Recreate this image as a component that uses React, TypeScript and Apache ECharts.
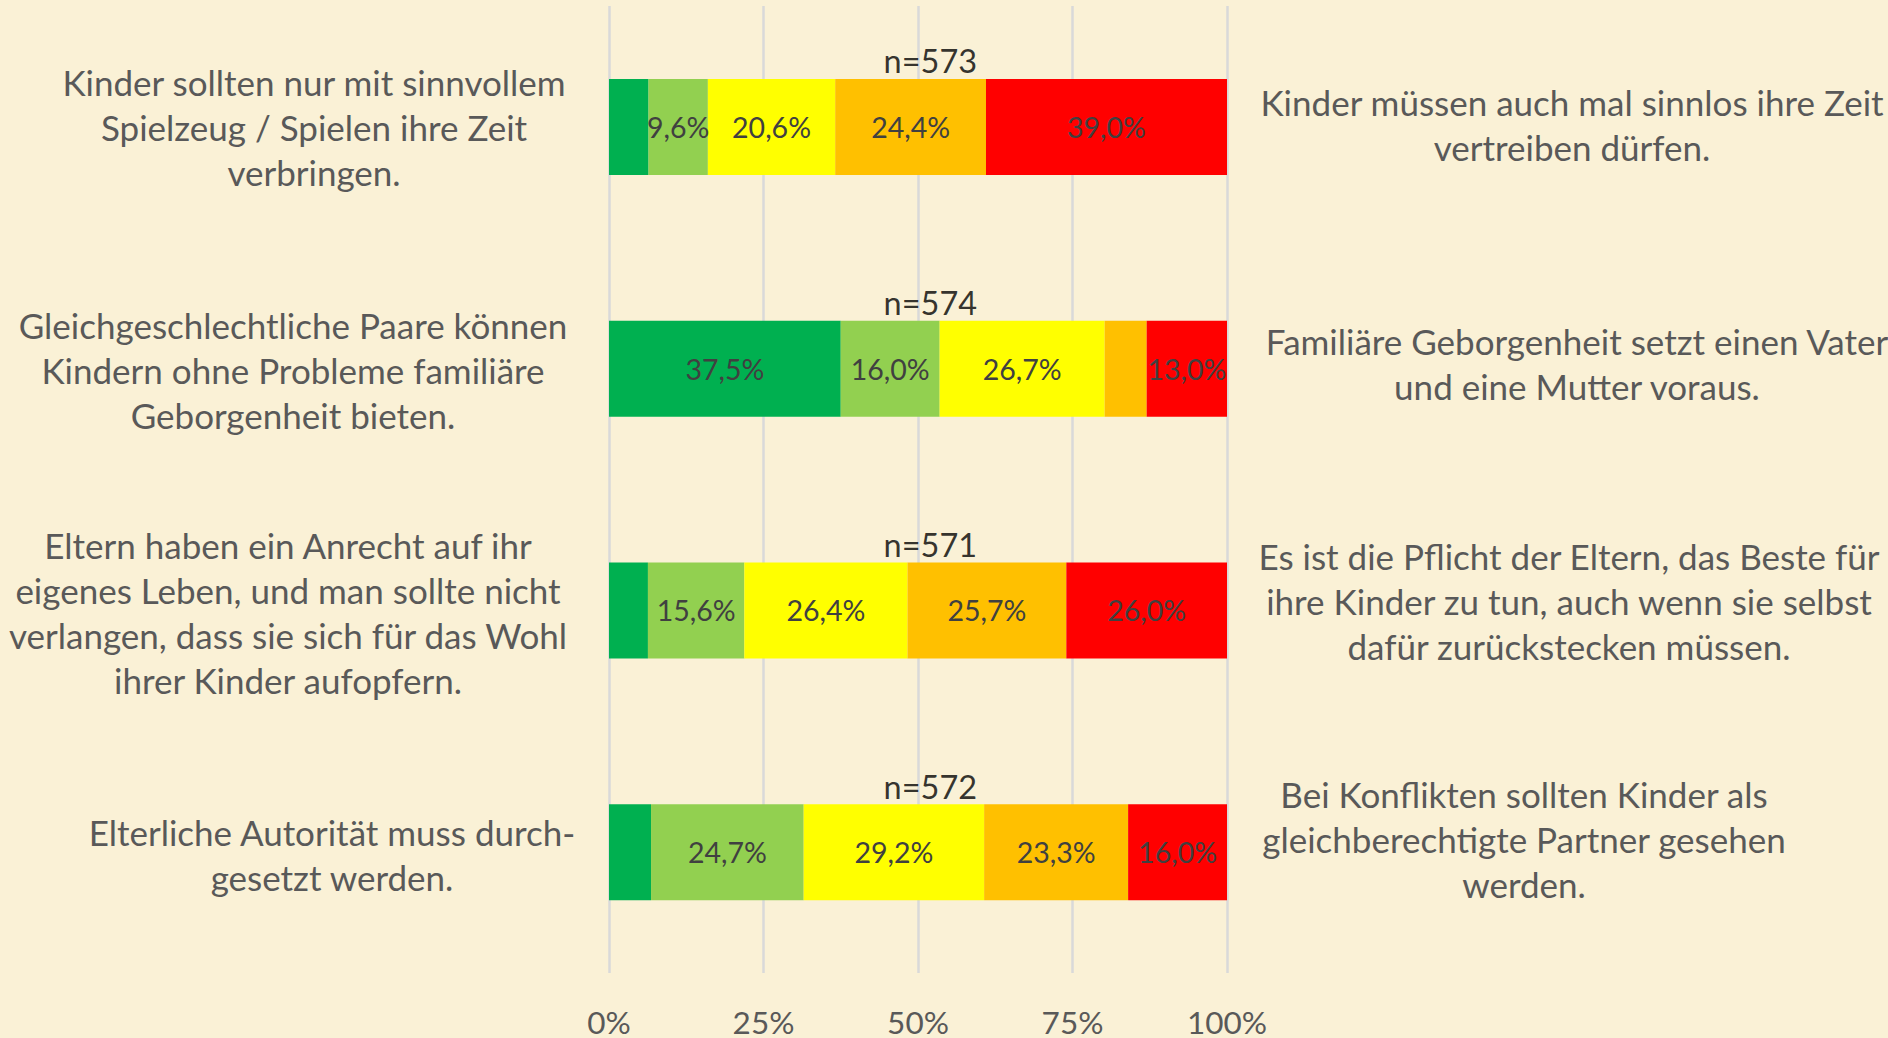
import React, { useEffect, useRef } from "react";
import * as echarts from "echarts";

const categories = ["Q1", "Q2", "Q3", "Q4"];
const seriesNames = ["1", "2", "3", "4", "5"];
const seriesColors = ["#00B050", "#92D050", "#FFFF00", "#FFC000", "#FF0000"];
const s1 = [6.4, 37.5, 6.3, 6.8];
const s2 = [9.6, 16.0, 15.6, 24.7];
const s3 = [20.6, 26.7, 26.4, 29.2];
const s4 = [24.4, 6.8, 25.7, 23.3];
const s5 = [39.0, 13.0, 26.0, 16.0];
const nValues = [573, 574, 571, 572];
const xTicks = [0, 25, 50, 75, 100];

const leftTexts = [
  "Kinder sollten nur mit sinnvollem\nSpielzeug / Spielen ihre Zeit\nverbringen.",
  "Gleichgeschlechtliche Paare können\nKindern ohne Probleme familiäre\nGeborgenheit bieten.",
  "Eltern haben ein Anrecht auf ihr\neigenes Leben, und man sollte nicht\nverlangen, dass sie sich für das Wohl\nihrer Kinder aufopfern.",
  "Elterliche Autorität muss durch-\ngesetzt werden.",
];
const rightTexts = [
  "Kinder müssen auch mal sinnlos ihre Zeit\nvertreiben dürfen.",
  "Familiäre Geborgenheit setzt einen Vater\nund eine Mutter voraus.",
  "Es ist die Pflicht der Eltern, das Beste für\nihre Kinder zu tun, auch wenn sie selbst\ndafür zurückstecken müssen.",
  "Bei Konflikten sollten Kinder als\ngleichberechtigte Partner gesehen\nwerden.",
];
const leftPos = [[314, 127], [293, 370], [288, 612], [332, 854]];
const rightPos = [[1572, 124], [1577, 363], [1569, 601], [1524, 839]];

const FONT = "Lato, 'Open Sans', sans-serif";

export default function App() {
  const ref = useRef<HTMLDivElement>(null);
  useEffect(() => {
    if (!ref.current) return;
    const chart = echarts.init(ref.current, undefined, { renderer: "svg" });
    const data = [s1, s2, s3, s4, s5];
    const fmt = (v: number) => v.toFixed(1).replace(".", ",") + "%";
    const barSeries = data.map((d, i) => ({
      name: seriesNames[i],
      type: "bar",
      stack: "total",
      barWidth: 96,
      itemStyle: { color: seriesColors[i] },
      label: {
        show: true,
        position: "inside",
        color: "#404040",
        fontSize: 28.5,
        fontFamily: FONT,
        formatter: (p: any) => (p.value >= 9 ? fmt(p.value) : ""),
      },
      data: d,
    }));
    const textStyle = { fontSize: 35, fontFamily: FONT, fill: "#595959", lineHeight: 45, textAlign: "center", textVerticalAlign: "middle" };
    const graphics: any[] = [];
    leftTexts.forEach((t, i) => {
      graphics.push({ type: "text", x: leftPos[i][0], y: leftPos[i][1], style: { ...textStyle, text: t } });
    });
    rightTexts.forEach((t, i) => {
      graphics.push({ type: "text", x: rightPos[i][0], y: rightPos[i][1], style: { ...textStyle, text: t } });
    });
    chart.setOption({
      animation: false,
      backgroundColor: "#FAF1D6",
      grid: { left: 609, width: 618, top: 6, height: 971, containLabel: false },
      xAxis: {
        type: "value",
        min: 0,
        max: 100,
        interval: 25,
        axisLabel: {
          formatter: (v: number) => (xTicks.includes(v) ? v + "%" : ""),
          color: "#595959",
          fontSize: 31.5,
          fontFamily: FONT,
          margin: 33,
        },
        axisLine: { show: false },
        axisTick: { show: false },
        splitLine: { show: true, lineStyle: { color: "#D9D9D9", width: 2.5 } },
      },
      yAxis: {
        type: "category",
        data: categories,
        inverse: true,
        axisLabel: { show: false },
        axisLine: { show: false },
        axisTick: { show: false },
        splitLine: { show: false },
      },
      series: [
        ...barSeries,
        {
          type: "scatter",
          symbolSize: 0,
          silent: true,
          data: nValues.map((n, i) => ({ value: [52, i], n })),
          label: {
            show: true,
            position: "inside",
            offset: [0, -66],
            color: "#000000",
            fontSize: 32.5,
            fontFamily: FONT,
            formatter: (p: any) => "n=" + p.data.n,
          },
        },
      ],
      graphic: graphics,
    });
    return () => chart.dispose();
  }, []);
  return (
    <div
      ref={ref}
      style={{ position: "fixed", left: 0, top: 0, width: 1888, height: 1038 }}
    />
  );
}
